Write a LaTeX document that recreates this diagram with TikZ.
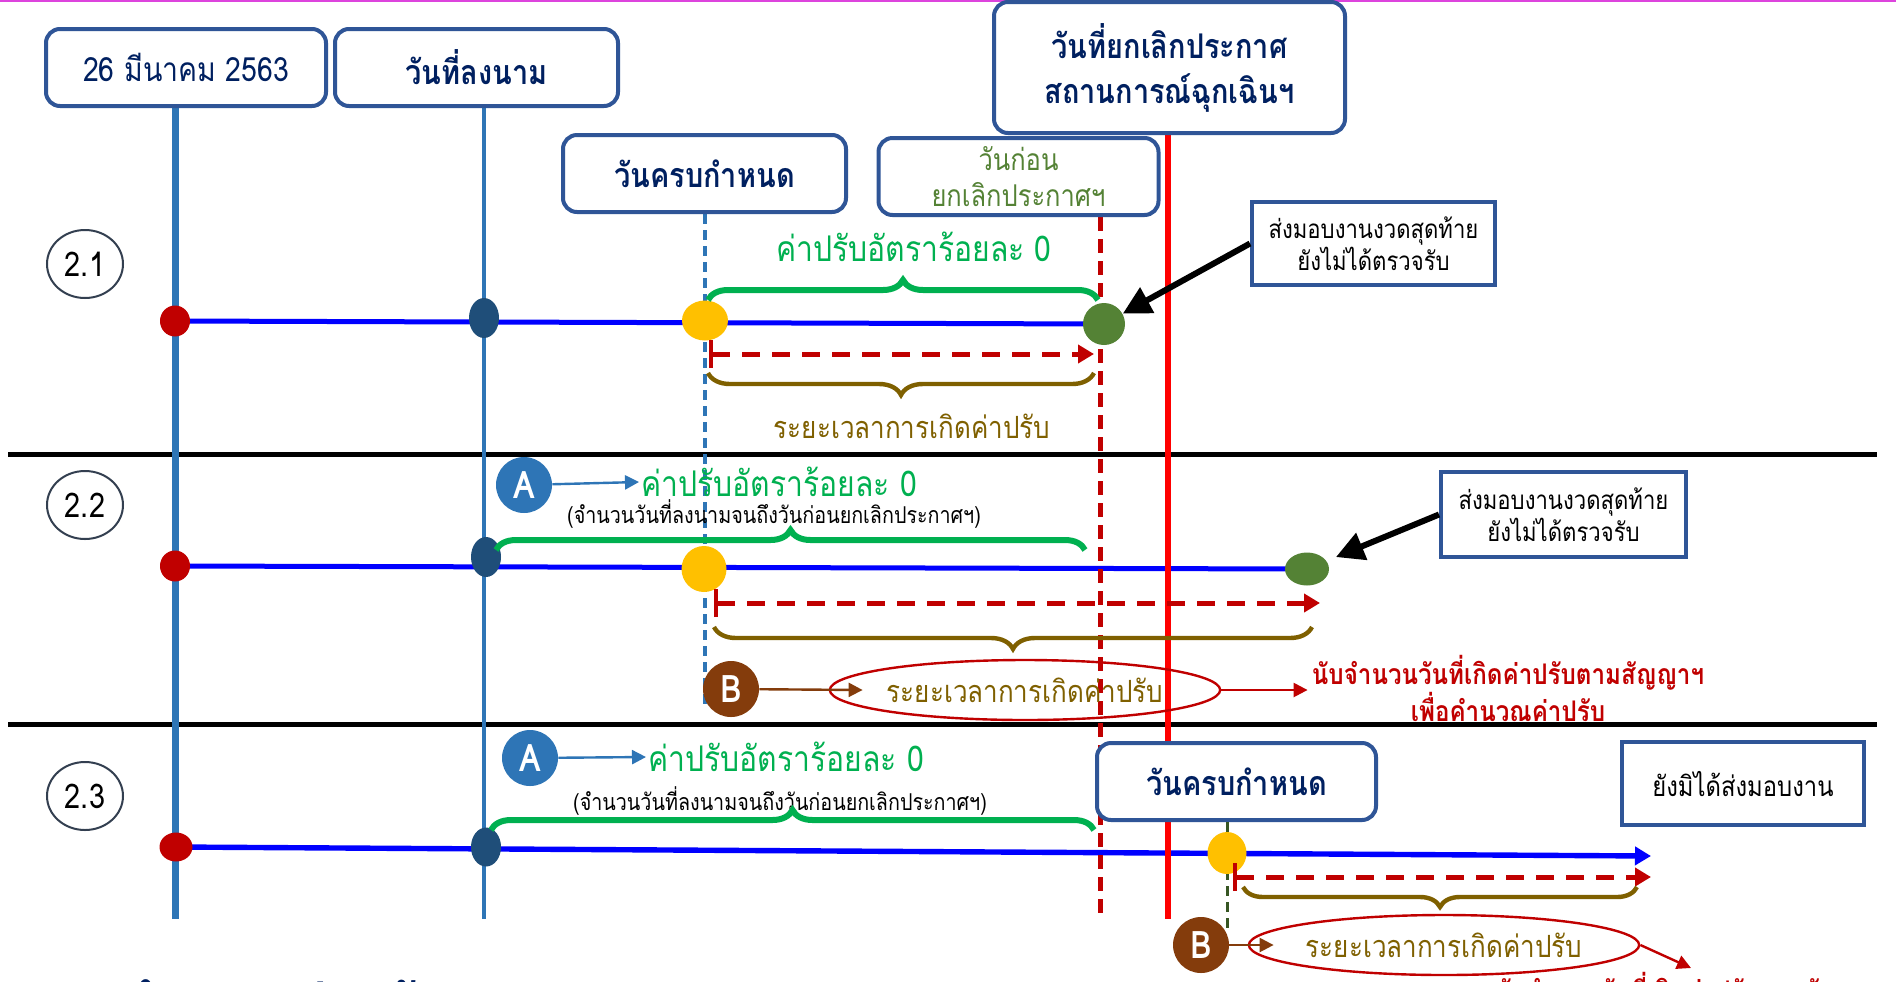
\documentclass[tikz,border=0pt]{standalone}
\usepackage{fontspec}
\setmainfont{Loma}[Script=Thai,FakeStretch=0.85]
\usetikzlibrary{arrows.meta,decorations.pathreplacing,shapes.geometric}

\definecolor{boxblue}{HTML}{2F5597}
\definecolor{navy}{HTML}{002060}
\definecolor{lineblue}{HTML}{2E75B6}
\definecolor{dotred}{HTML}{C00000}
\definecolor{dotnavy}{HTML}{1F4E79}
\definecolor{dotyellow}{HTML}{FFC000}
\definecolor{dotgreen}{HTML}{548235}
\definecolor{fgreen}{HTML}{00B050}
\definecolor{fbrown}{HTML}{7F6000}
\definecolor{bbrown}{HTML}{843C0C}
\definecolor{dgreen}{HTML}{375623}
\definecolor{pinkline}{HTML}{DD44DD}
\definecolor{numgray}{HTML}{333F50}

\pgfdeclarelayer{back}
\pgfdeclarelayer{mid}
\pgfsetlayers{back,mid,main}

\tikzset{
  datebox/.style={draw=boxblue, line width=2pt, rounded corners=7pt, fill=white,
    text=navy, align=center, inner sep=0pt, minimum width=140pt, minimum height=38.5pt},
  notebox/.style={draw=boxblue, line width=2pt, fill=white, align=center, inner sep=0pt,
    font=\fontsize{13}{15}\selectfont},
  dot/.style 2 args={ellipse, inner sep=0pt, minimum width=#1, minimum height=#2},
  numcircle/.style={ellipse, draw=numgray, line width=1pt, inner sep=0pt,
    minimum width=38pt, minimum height=34pt, font=\fontsize{17}{17}\selectfont},
  letter/.style={circle, inner sep=0pt, minimum size=28pt, text=white,
    font=\bfseries\fontsize{19}{19}\selectfont},
  tline/.style={draw=blue, line width=2.5pt},
  gtext/.style={text=fgreen, inner sep=1pt, font=\fontsize{17.7}{17.7}\selectfont},
  btext/.style={text=fbrown, inner sep=1pt, font=\fontsize{15.3}{15.3}\selectfont},
  ptext/.style={inner sep=1pt, font=\fontsize{11.6}{11.6}\selectfont},
  rtext/.style={text=dotred, align=center, inner sep=2pt, font=\bfseries\fontsize{14.2}{14}\selectfont},
  oval/.style={ellipse, draw=dotred, line width=1.2pt, inner sep=0pt, text=fbrown,
    minimum width=190pt, minimum height=30pt, font=\fontsize{15.3}{15.3}\selectfont},
  gbrace/.style={decorate, decoration={brace, amplitude=10pt}, draw=fgreen, line width=3pt},
  bbrace/.style={decorate, decoration={brace, amplitude=11pt}, draw=fbrown, line width=2.2pt},
  rdash/.style={draw=dotred, line width=2.5pt, dash pattern=on 9pt off 6pt,
    {Bar[width=14pt,line width=2pt]}-{Triangle[length=8pt,width=9pt]}},
  bigarrow/.style={draw=black, line width=3pt, -{Triangle[length=14pt,width=14pt]}},
  aarrow/.style={draw=lineblue, line width=1.2pt, -{Triangle[length=7pt,width=7pt]}},
  barrow/.style={draw=bbrown, line width=1.2pt, -{Triangle[length=7pt,width=7pt]}},
  rarrow/.style={draw=dotred, line width=1.2pt, -{Triangle[length=7pt,width=7pt]}}
}

\begin{document}
\begin{tikzpicture}[x=0.5pt, y=-0.5pt]
\useasboundingbox (0,0) rectangle (1896,981);
\begin{pgfonlayer}{back}
  \fill[white] (0,0) rectangle (1896,981);
  \draw[pinkline, line width=1pt] (0,1) -- (1896,1);
  \draw[line width=2.5pt] (8,454) -- (1877,454);
  \draw[line width=2.5pt] (8,724) -- (1877,724);
\end{pgfonlayer}

% date boxes on top
\node[datebox, font=\fontsize{16.7}{16.7}\selectfont] (mar) at (186,67.5) {26 มีนาคม 2563};
\node[datebox, minimum width=141.5pt, font=\bfseries\fontsize{17}{17}\selectfont] (sign) at (476.5,67.5) {วันที่ลงนาม};
\node[datebox, minimum width=141.5pt, font=\bfseries\fontsize{17}{17}\selectfont] (due) at (704.5,173.5) {วันครบกำหนด};
\node[datebox, text=dotgreen, font=\fontsize{15}{18}\selectfont] (before) at (1018.5,176.5) {วันก่อน\\ยกเลิกประกาศฯ};
\node[datebox, minimum width=175.5pt, minimum height=65.5pt, font=\bfseries\fontsize{17}{22.5}\selectfont] (cancel) at (1169.5,67.5) {วันที่ยกเลิกประกาศ\\สถานการณ์ฉุกเฉินฯ};

% vertical lines
\coordinate (v1e) at (175,919);
\coordinate (v2e) at (484,919);
\coordinate (vde) at (705,707);
\coordinate (vre) at (1100,917);
\coordinate (vse) at (1168,919);
\coordinate (vge) at (1227,930);
\begin{pgfonlayer}{mid}
  \draw[lineblue, line width=3.5pt] (mar.south -| v1e) -- (v1e);
  \draw[lineblue, line width=2.2pt] (sign.south -| v2e) -- (v2e);
  \draw[lineblue, line width=2pt, dash pattern=on 5pt off 3pt] (due.south -| vde) -- (vde);
  \draw[red, line width=3pt] (cancel.south -| vse) -- (vse);
  \draw[dotred, line width=2.5pt, dash pattern=on 7pt off 4pt] (before.south -| vre) -- (vre);
\end{pgfonlayer}

% 2.1
\node[numcircle] (n21) at (85,264) {2.1};
\node[dot={15pt}{15.5pt}, fill=dotred] (r21) at (175,321) {};
\node[dot={15pt}{20pt}, fill=dotnavy] (s21) at (484,318) {};
\node[dot={23pt}{20pt}, fill=dotyellow] (y21) at (705,320.5) {};
\node[dot={21pt}{21pt}, fill=dotgreen] (g21) at (1104,324) {};
\begin{pgfonlayer}{back}
  \draw[tline] (r21.center) -- (g21.center);
\end{pgfonlayer}
\draw[gbrace] (708,300) -- (1098,300);
\node[gtext] (g21t) at (914,247) {ค่าปรับอัตราร้อยละ 0};
\coordinate (d21s) at (709,354);
\coordinate (d21e) at (1094,354);
\draw[rdash] (d21s) -- (d21e);
\draw[bbrace] (1094,373) -- (708,373);
\node[btext] (b21t) at (912,426) {ระยะเวลาการเกิดค่าปรับ};
\node[notebox, minimum width=121.5pt, minimum height=41.5pt] (last21) at (1373.5,243.5) {ส่งมอบงานงวดสุดท้าย\\ยังไม่ได้ตรวจรับ};
\draw[bigarrow] (last21.west) -- (g21);

% 2.2
\node[numcircle] (n22) at (85,505) {2.2};
\node[dot={15pt}{15.5pt}, fill=dotred] (r22) at (175,566) {};
\node[dot={15pt}{20pt}, fill=dotnavy] (s22) at (486,557) {};
\node[dot={22.5pt}{23pt}, fill=dotyellow] (y22) at (704,569) {};
\node[dot={22pt}{16.5pt}, fill=dotgreen] (g22) at (1307,569) {};
\begin{pgfonlayer}{back}
  \draw[tline] (r22.center) -- (g22.center);
\end{pgfonlayer}
\node[letter, fill=lineblue] (a22) at (524,485) {A};
\node[gtext, anchor=west] (g22t) at (639,482) {ค่าปรับอัตราร้อยละ 0};
\draw[aarrow] (a22) -- (g22t.west);
\node[ptext] (p22t) at (774,514) {(จำนวนวันที่ลงนามจนถึงวันก่อนยกเลิกประกาศฯ)};
\draw[gbrace] (496,550) -- (1085,550);
\coordinate (d22s) at (714,603);
\coordinate (d22e) at (1320,603);
\draw[rdash] (d22s) -- (d22e);
\draw[bbrace] (1312,627) -- (714,627);
\node[letter, fill=bbrown] (b22) at (731,689) {B};
\node[oval] (e22) at (1025,690) {ระยะเวลาการเกิดค่าปรับ};
\draw[barrow] (b22) -- ([xshift=17pt]e22.west);
\node[rtext] (r22t) at (1508,688) {นับจำนวนวันที่เกิดค่าปรับตามสัญญาฯ\\เพื่อคำนวณค่าปรับ};
\draw[rarrow] (e22.east) -- (e22.east -| r22t.west);
\node[notebox, minimum width=122.5pt, minimum height=42.5pt] (last22) at (1563.5,514.5) {ส่งมอบงานงวดสุดท้าย\\ยังไม่ได้ตรวจรับ};
\draw[bigarrow, shorten >=5pt] (last22.west) -- (g22);

% 2.3
\node[numcircle] (n23) at (85,796) {2.3};
\node[datebox, minimum width=139.5pt, font=\bfseries\fontsize{17}{17}\selectfont] (due23) at (1236.5,781.5) {วันครบกำหนด};
\draw[dgreen, line width=1.5pt, dash pattern=on 5pt off 3pt] (due23.south -| vge) -- (vge);
\node[dot={16.5pt}{14.5pt}, fill=dotred] (r23) at (176,847) {};
\node[dot={15pt}{19.5pt}, fill=dotnavy] (s23) at (486,847) {};
\node[dot={19.5pt}{21pt}, fill=dotyellow] (y23) at (1227,853) {};
\coordinate (t23e) at (1651,856);
\begin{pgfonlayer}{back}
  \draw[tline, line width=2.7pt, -{Triangle[length=8pt,width=9pt]}] (r23.center) -- (t23e);
\end{pgfonlayer}
\node[letter, fill=lineblue] (a23) at (530,758) {A};
\node[gtext, anchor=west] (g23t) at (646,757) {ค่าปรับอัตราร้อยละ 0};
\draw[aarrow] (a23) -- (g23t.west);
\node[ptext] (p23t) at (780,801) {(จำนวนวันที่ลงนามจนถึงวันก่อนยกเลิกประกาศฯ)};
\draw[gbrace] (491,830) -- (1094,830);
\coordinate (d23s) at (1233,877);
\coordinate (d23e) at (1651,877);
\draw[rdash] (d23s) -- (d23e);
\draw[bbrace, decoration={amplitude=10pt}] (1637,887) -- (1243,887);
\node[letter, fill=bbrown] (b23) at (1201,945) {B};
\node[oval, minimum width=192pt] (e23) at (1444,945) {ระยะเวลาการเกิดค่าปรับ};
\draw[barrow] (b23) -- ([xshift=13pt]e23.west);
\node[rtext, anchor=north] (r23t) at (1691,968) {นับจำนวนวันที่เกิดค่าปรับตามสัญญาฯ\\เพื่อคำนวณค่าปรับ};
\draw[rarrow] (e23.east) -- (r23t.north);
\node[notebox, minimum width=121pt, minimum height=41.5pt, font=\fontsize{14}{14}\selectfont] (none23) at (1743,783.5) {ยังมิได้ส่งมอบงาน};

\node[anchor=west, text=navy, font=\bfseries\fontsize{30}{30}\selectfont] (calc) at (112,1004) {คำนวณค่าปรับ};
\end{tikzpicture}
\end{document}
